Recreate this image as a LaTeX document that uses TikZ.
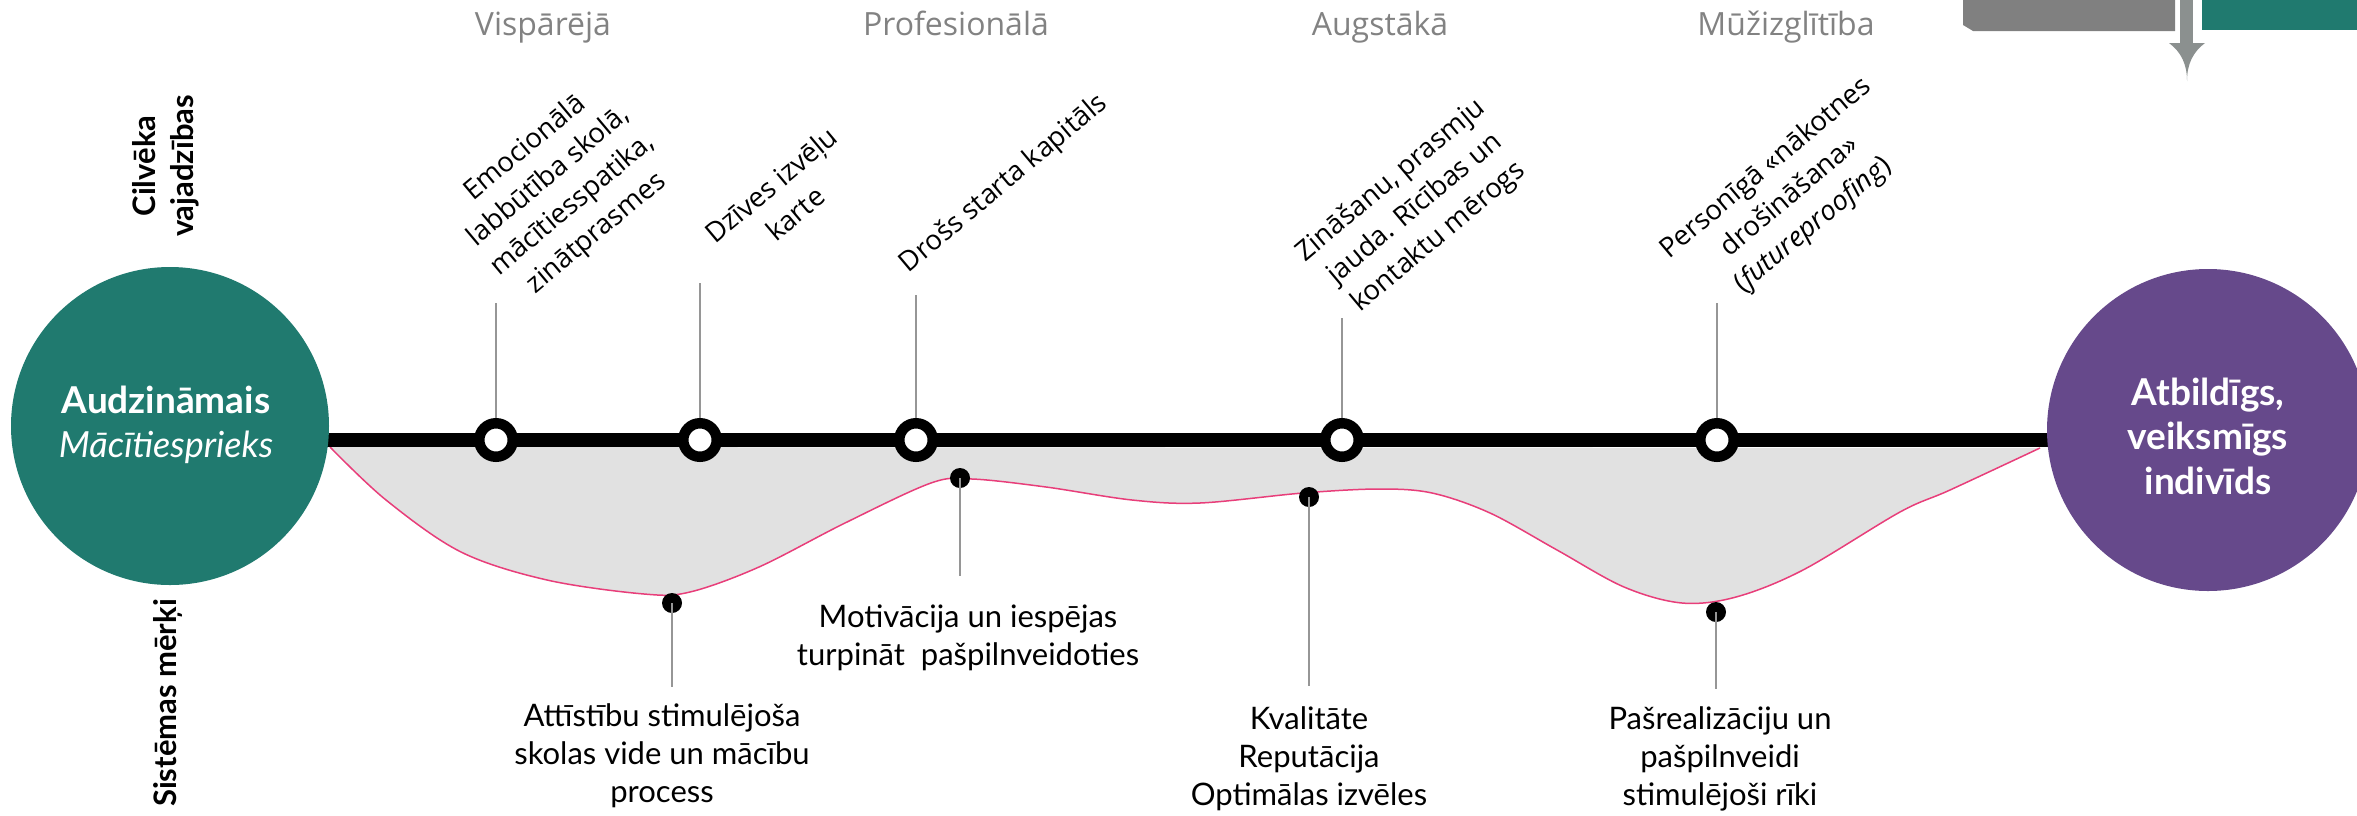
\documentclass[tikz,border=0pt]{standalone}
\usepackage{fontspec}
\setmainfont{Open Sans}
\newfontfamily\latofont{Lato}
\definecolor{tealc}{RGB}{32,122,111}
\definecolor{purplec}{RGB}{102,73,139}
\definecolor{boxgrey}{RGB}{128,128,128}
\definecolor{arrowgrey}{RGB}{139,144,143}
\definecolor{curvepink}{RGB}{232,62,122}
\definecolor{areagrey}{RGB}{225,225,225}
\definecolor{stemgrey}{RGB}{150,150,150}
\definecolor{headgrey}{RGB}{130,130,130}
\begin{document}
\begin{tikzpicture}[x=1pt,y=-1pt,
  ring/.style={circle, draw=black, line width=10.5pt, fill=white, minimum size=33.5pt, inner sep=0pt},
  dotmark/.style={circle, fill=black, minimum size=20pt, inner sep=0pt},
  stem/.style={draw=stemgrey, line width=1.4pt},
  rot/.style={rotate=40, align=center, inner sep=0pt, font=\fontsize{27.5}{37}\selectfont},
  goal/.style={align=center, inner sep=0pt, font=\latofont\fontsize{31}{38}\selectfont},
  head/.style={anchor=base, inner sep=0pt, text=headgrey, font=\fontsize{32}{38}\selectfont},
  side/.style={rotate=90, align=center, inner sep=0pt, font=\latofont\bfseries\fontsize{31}{38}\selectfont},
  bigcirc/.style={circle, minimum size=#1, inner sep=0pt},
]
\useasboundingbox (0,0) rectangle (2357,815);

% top right decoration
\fill[boxgrey] (1963,0) -- (2175,0) -- (2175,31) -- (1973,31) -- (1963,25) -- cycle;
\fill[tealc] (2202,0) rectangle (2357,30);
\fill[arrowgrey] (2180,0) rectangle (2193,44);
\fill[arrowgrey] (2169,43) .. controls (2181,52) and (2187,64) .. (2187,81)
  .. controls (2187,64) and (2193,52) .. (2205,43) -- cycle;

% shaded area with pink border
\draw[draw=curvepink, fill=areagrey, line width=1.5pt] plot[smooth, tension=0.55] coordinates {
  (330,447) (386,500) (461,552) (547,580) (644,594) (690,592) (759,567)
  (845,523) (931,483) (972,479) (1046,487) (1132,500) (1200,503) (1303,493)
  (1379,489) (1432,493) (1490,513) (1557,550) (1624,587) (1682,603)
  (1736,597) (1803,570) (1900,512) (1950,490) (2040,448)};

% main line
\coordinate (ls) at (326,440);
\coordinate (le) at (2052,440);
\draw[line width=14pt] (ls) -- (le);

% end circles
\node[bigcirc=318pt, fill=tealc] (L) at (170,426) {};
\node[bigcirc=322pt, fill=purplec] (R) at (2208,430) {};
\node[align=center, text=white, inner sep=0pt, font=\latofont\fontsize{36}{44}\selectfont] (Lt) at (166,425)
  {{\bfseries\fontsize{37}{44}\selectfont Audzināmais}\\{\itshape Mācītiesprieks}};
\node[align=center, text=white, inner sep=0pt, font=\latofont\bfseries\fontsize{37}{44.5}\selectfont] (Rt) at (2208,436)
  {Atbildīgs,\\veiksmīgs\\indivīds};

% headings
\node[head] (h1) at (543,35) {Vispārējā};
\node[head] (h2) at (956,35) {Profesionālā};
\node[head] (h3) at (1380,35) {Augstākā};
\node[head] (h4) at (1786,35) {Mūžizglītība};

% side labels
\node[side] (s1) at (166,166) {Cilvēka\\vajadzības};
\node[side] (s2) at (168,703) {Sistēmas mērķi};

% upper stations
\node[ring] (r1) at (496,440) {};
\node[ring] (r2) at (700,440) {};
\node[ring] (r3) at (916,440) {};
\node[ring] (r4) at (1342,440) {};
\node[ring] (r5) at (1717,440) {};
\coordinate (u1) at (496,303);
\coordinate (u2) at (700,283);
\coordinate (u3) at (916,295);
\coordinate (u4) at (1342,318);
\coordinate (u5) at (1717,303);
\foreach \i in {1,...,5} { \draw[stem] (u\i) -- (r\i.north); }

\node[rot] (t1) at (561,191) {Emocionālā\\labbūtība skolā,\\mācītiesspatika,\\zinātprasmes};
\node[rot] (t2) at (783,199) {Dzīves izvēļu\\karte};
\node[rot] (t3) at (1004,184) {Drošs starta kapitāls};
\node[rot] (t4) at (1415,209) {Zināšanu, prasmju\\jauda. Rīcības un\\kontaktu mērogs};
\node[rot] (t5) at (1790,197) {Personīgā «nākotnes\\drošināšana»\\(\textit{futureproofing})};

% lower markers
\node[dotmark] (d1) at (672,603) {};
\node[dotmark] (d2) at (960,478) {};
\node[dotmark] (d3) at (1309,497) {};
\node[dotmark] (d4) at (1716,612) {};
\coordinate (b1) at (672,687);
\coordinate (b2) at (960,576);
\coordinate (b3) at (1309,686);
\coordinate (b4) at (1716,689);
\foreach \i in {1,...,4} { \draw[stem] (d\i.center) -- (b\i); }

\node[goal] (g1) at (662,756) {Attīstību stimulējoša\\skolas vide un mācību\\process};
\node[goal] (g2) at (968,638) {Motivācija un iespējas\\turpināt\ \ pašpilnveidoties};
\node[goal] (g3) at (1309,759) {Kvalitāte\\Reputācija\\Optimālas izvēles};
\node[goal] (g4) at (1720,759) {Pašrealizāciju un\\pašpilnveidi\\stimulējoši rīki};
\end{tikzpicture}
\end{document}
